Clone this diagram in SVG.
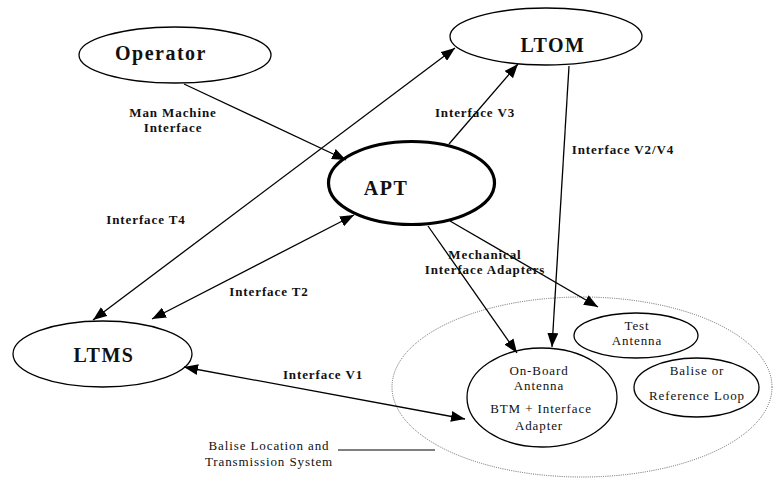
<svg xmlns="http://www.w3.org/2000/svg" width="773" height="481" viewBox="0 0 773 481">
<style>
.node{fill:#fff;stroke:#000;stroke-width:1.3}
.thick{fill:#fff;stroke:#000;stroke-width:3.2}
.dotted{fill:none;stroke:#555;stroke-width:0.9;stroke-dasharray:1 1.2}
.big{font-family:"Liberation Serif","Times New Roman",serif;font-weight:bold;font-size:20px;letter-spacing:1.5px;fill:#111}
.lbl{font-family:"Liberation Serif","Times New Roman",serif;font-weight:bold;font-size:13px;letter-spacing:0.9px;fill:#111}
.reg{font-family:"Liberation Serif","Times New Roman",serif;font-size:13px;letter-spacing:0.9px;fill:#111}
.conn line{stroke:#000;stroke-width:1.3}
</style>
<defs>
<marker id="ah" markerUnits="userSpaceOnUse" markerWidth="15" markerHeight="11" refX="14" refY="5.5" orient="auto-start-reverse" viewBox="0 0 15 11">
<path d="M0,0 L14,5.5 L0,11 z" fill="#000"/>
</marker>
</defs>
<rect width="773" height="481" fill="#fff"/>

<g id="blts">
<ellipse class="dotted" cx="582" cy="387" rx="190" ry="90"/>
<line x1="338" y1="450" x2="435" y2="450" stroke="#000" stroke-width="1.2"/>
<text class="reg" x="269" y="450" text-anchor="middle">Balise Location and</text>
<text class="reg" x="269" y="466" text-anchor="middle">Transmission System</text>
</g>

<g id="operator">
<ellipse class="node" cx="175" cy="55" rx="96" ry="28"/>
<text class="big" x="161" y="60" text-anchor="middle">Operator</text>
</g>

<g id="ltom">
<ellipse class="node" cx="546" cy="36.5" rx="96" ry="28.5"/>
<text class="big" x="553" y="52" text-anchor="middle">LTOM</text>
</g>

<g id="apt">
<ellipse class="thick" cx="411.5" cy="183" rx="83" ry="41.5"/>
<text class="big" x="386" y="195" text-anchor="middle">APT</text>
</g>

<g id="ltms">
<ellipse class="node" cx="102.5" cy="354" rx="89.5" ry="33"/>
<text class="big" x="104" y="362" text-anchor="middle">LTMS</text>
</g>

<g id="onboard">
<ellipse class="node" cx="542" cy="397.5" rx="75" ry="49.5"/>
<text class="reg" x="539" y="375" text-anchor="middle">On-Board</text>
<text class="reg" x="539" y="390" text-anchor="middle">Antenna</text>
<text class="reg" x="541" y="413" text-anchor="middle">BTM + Interface</text>
<text class="reg" x="539" y="430" text-anchor="middle">Adapter</text>
</g>

<g id="testantenna">
<ellipse class="node" cx="636" cy="335.5" rx="62" ry="22.5"/>
<text class="reg" x="637" y="330" text-anchor="middle">Test</text>
<text class="reg" x="637" y="345" text-anchor="middle">Antenna</text>
</g>

<g id="balise">
<ellipse class="node" cx="696.5" cy="387.5" rx="62.5" ry="29.5"/>
<text class="reg" x="697" y="375" text-anchor="middle">Balise or</text>
<text class="reg" x="697" y="400" text-anchor="middle">Reference Loop</text>
</g>

<g id="connectors" class="conn">
<line x1="184" y1="84" x2="346" y2="160" marker-end="url(#ah)"/>
<line x1="93" y1="320" x2="455" y2="48" marker-start="url(#ah)" marker-end="url(#ah)"/>
<line x1="152" y1="319" x2="354" y2="215" marker-start="url(#ah)" marker-end="url(#ah)"/>
<line x1="449" y1="144" x2="518" y2="64" marker-end="url(#ah)"/>
<line x1="569" y1="66" x2="552" y2="347" marker-end="url(#ah)"/>
<line x1="428" y1="226" x2="517" y2="353" marker-end="url(#ah)"/>
<line x1="450" y1="221" x2="598" y2="307" marker-end="url(#ah)"/>
<line x1="184" y1="367" x2="465" y2="419" marker-start="url(#ah)" marker-end="url(#ah)"/>
</g>

<g id="labels">
<text class="lbl" x="173" y="117" text-anchor="middle">Man Machine</text>
<text class="lbl" x="173" y="132" text-anchor="middle">Interface</text>
<text class="lbl" x="475" y="117" text-anchor="middle">Interface V3</text>
<text class="lbl" x="623" y="154" text-anchor="middle">Interface V2/V4</text>
<text class="lbl" x="146" y="224" text-anchor="middle">Interface T4</text>
<text class="lbl" x="269" y="296" text-anchor="middle">Interface T2</text>
<text class="lbl" x="485" y="259" text-anchor="middle">Mechanical</text>
<text class="lbl" x="485" y="274" text-anchor="middle">Interface Adapters</text>
<text class="lbl" x="323" y="379" text-anchor="middle">Interface V1</text>
</g>
</svg>
